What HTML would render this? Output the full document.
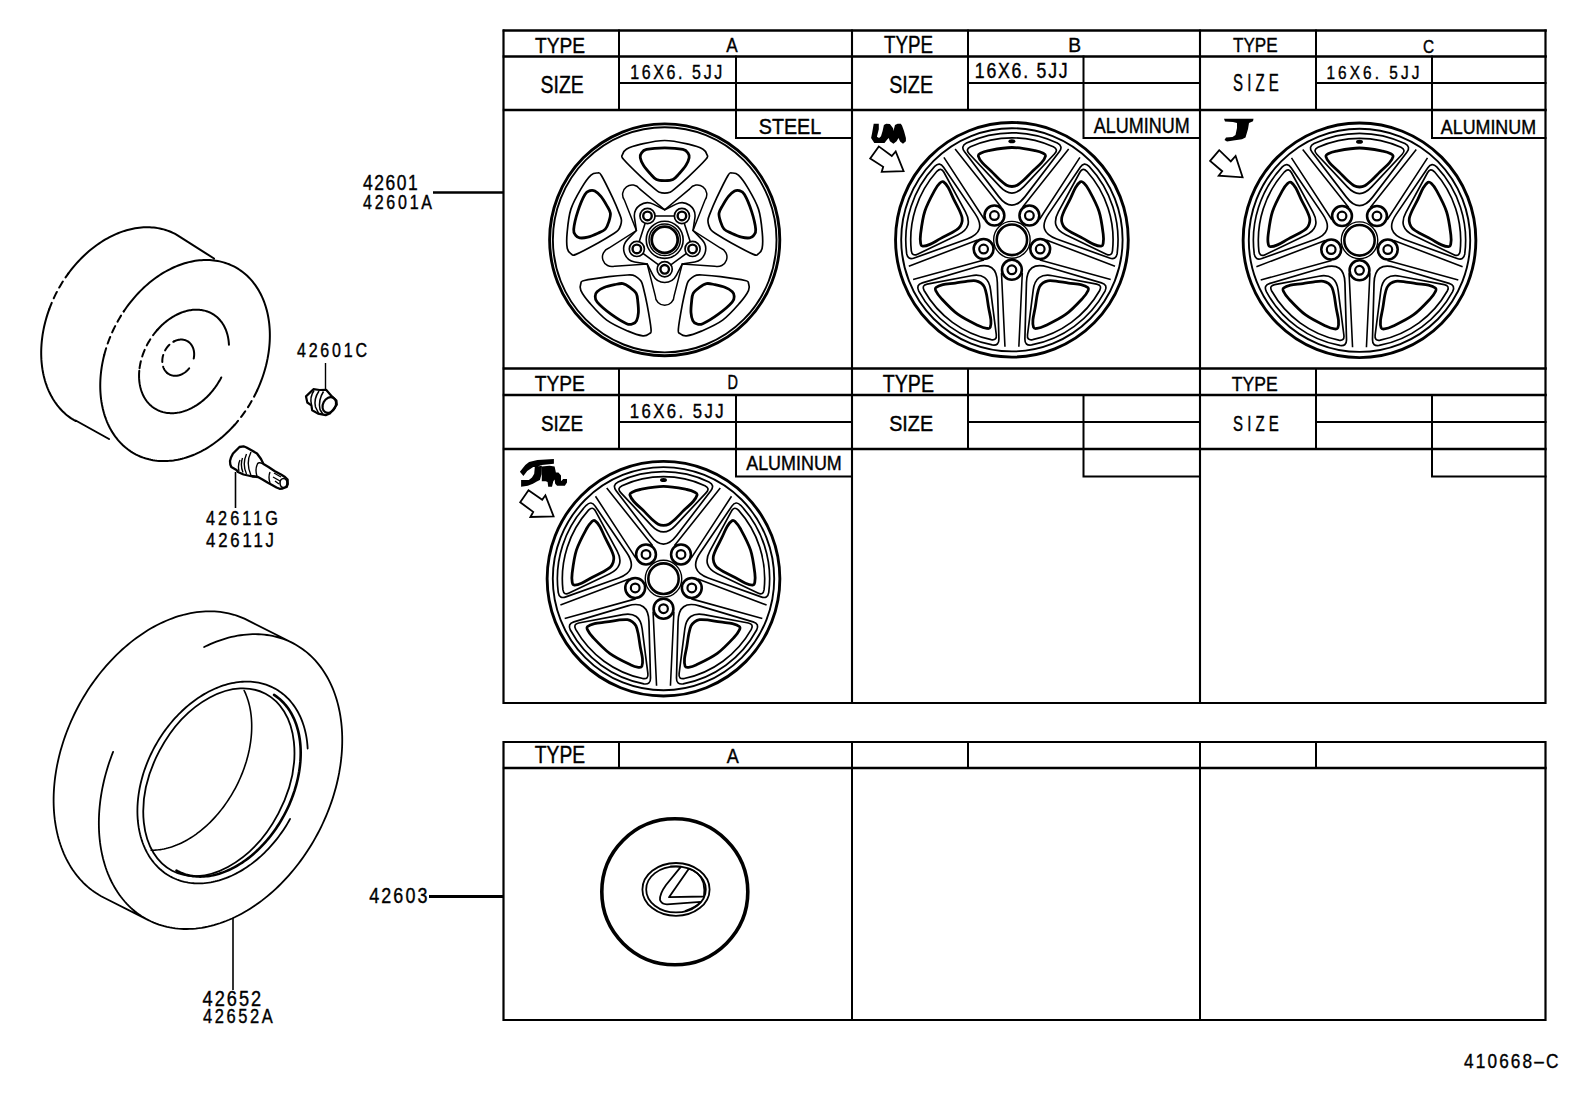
<!DOCTYPE html>
<html><head><meta charset="utf-8">
<style>
html,body{margin:0;padding:0;background:#fff;width:1592px;height:1099px;overflow:hidden}
svg{position:absolute;left:0;top:0}
text{font-family:"Liberation Sans",sans-serif;fill:#000;stroke:#000;stroke-width:0.4px}
</style></head><body>
<svg width="1592" height="1099" viewBox="0 0 1592 1099">
<defs><g id="alwheel" fill="none" stroke="#000"><circle r="117.3" stroke-width="2.9"/><circle r="111.6" stroke-width="1.9"/><path id="alw" d="M-45.78,-96.71A107,107 0 0 1 45.78,-96.71Q52,-93.51 47.73,-87.97Q30.48,-65.58 13.24,-43.19Q0,-26 -13.24,-43.19Q-30.48,-65.58 -47.73,-87.97Q-52,-93.51 -45.78,-96.71Z" stroke-width="1.7"/><use href="#alw" transform="rotate(72)"/><use href="#alw" transform="rotate(144)"/><use href="#alw" transform="rotate(216)"/><use href="#alw" transform="rotate(288)"/><path id="alw2" d="M-41.8,-93.04A102,102 0 0 1 41.8,-93.04Q47.2,-90.42 43.08,-86.06Q27.55,-69.59 12.01,-53.13Q0,-40.4 -12.01,-53.13Q-27.55,-69.59 -43.08,-86.06Q-47.2,-90.42 -41.8,-93.04Z" stroke-width="1.7"/><use href="#alw2" transform="rotate(72)"/><use href="#alw2" transform="rotate(144)"/><use href="#alw2" transform="rotate(216)"/><use href="#alw2" transform="rotate(288)"/><path id="alw3" d="M0,-92.3C-7.83,-92.3 -18.17,-90.2 -23.5,-89.2C-28.83,-88.2 -30.28,-87.23 -32,-86.3C-33.72,-85.37 -34.15,-85.12 -33.8,-83.6C-33.45,-82.08 -32.07,-79.7 -29.9,-77.2C-27.73,-74.7 -23.83,-71.55 -20.8,-68.6C-17.77,-65.65 -14.28,-61.85 -11.7,-59.5C-9.12,-57.15 -7.25,-55.53 -5.3,-54.5C-3.35,-53.47 -1.77,-53.3 0,-53.3C1.77,-53.3 3.35,-53.47 5.3,-54.5C7.25,-55.53 9.12,-57.15 11.7,-59.5C14.28,-61.85 17.77,-65.65 20.8,-68.6C23.83,-71.55 27.73,-74.7 29.9,-77.2C32.07,-79.7 33.45,-82.08 33.8,-83.6C34.15,-85.12 33.72,-85.37 32,-86.3C30.28,-87.23 28.83,-88.2 23.5,-89.2C18.17,-90.2 7.83,-92.3 0,-92.3Z" stroke-width="2.8"/><use href="#alw3" transform="rotate(72)"/><use href="#alw3" transform="rotate(144)"/><use href="#alw3" transform="rotate(216)"/><use href="#alw3" transform="rotate(288)"/><path id="alr" d="M-10.5,33L-7,107M10.5,33L7,107" stroke-width="1.6"/><use href="#alr" transform="rotate(72)"/><use href="#alr" transform="rotate(144)"/><use href="#alr" transform="rotate(216)"/><use href="#alr" transform="rotate(288)"/><circle cx="0" cy="30" r="10" stroke-width="2.6"/><circle cx="0" cy="30" r="4.4" stroke-width="2.2"/><circle cx="-28.53" cy="9.27" r="10" stroke-width="2.6"/><circle cx="-28.53" cy="9.27" r="4.4" stroke-width="2.2"/><circle cx="-17.63" cy="-24.27" r="10" stroke-width="2.6"/><circle cx="-17.63" cy="-24.27" r="4.4" stroke-width="2.2"/><circle cx="17.63" cy="-24.27" r="10" stroke-width="2.6"/><circle cx="17.63" cy="-24.27" r="4.4" stroke-width="2.2"/><circle cx="28.53" cy="9.27" r="10" stroke-width="2.6"/><circle cx="28.53" cy="9.27" r="4.4" stroke-width="2.2"/><circle r="18.4" stroke-width="1.4"/><circle r="15.3" stroke-width="2.6"/><ellipse cx="0" cy="-98.6" rx="3.5" ry="2" fill="#000" stroke="none"/></g></defs>
<g stroke="#000" stroke-width="2" fill="none" stroke-linecap="square">
<path d="M504 30.5H1545.5" stroke-width="2.6"/>
<path d="M503.5 30.5V703H1545.5V30.5" stroke-width="2.2"/>
<path d="M504 56.5H1545.5" stroke-width="2.7"/>
<path d="M504 110H1545.5" stroke-width="2.4"/>
<path d="M504 368.5H1545.5" stroke-width="2.6"/>
<path d="M852 30.5V703 M1200 30.5V703" stroke-width="2.1"/>
<path d="M619 30.5V110 M968 30.5V110 M1316 30.5V110"/>
<path d="M619 83H852 M968 83H1200 M1316 83H1545.5"/>
<path d="M736 56.5V138H852 M1083.5 56.5V138H1200 M1432 56.5V138H1545.5"/>
<path d="M504 395H1545.5" stroke-width="2.5"/>
<path d="M504 449H1545.5" stroke-width="2.3"/>
<path d="M619 369V449 M968 369V449 M1316 369V449"/>
<path d="M619 422H852 M968 422H1200 M1316 422H1545.5"/>
<path d="M736 395V476.5H852 M1083.5 395V476.5H1200 M1432 395V476.5H1545.5"/>
<path d="M503.5 742H1545.5V1020H503.5Z" stroke-width="2.2"/>
<path d="M504 768H1545.5" stroke-width="2.3"/>
<path d="M852 742V1020 M1200 742V1020"/>
<path d="M619 742V768 M968 742V768 M1316 742V768"/>
</g>
<g><text x="535" y="52.8" font-size="22.45" textLength="50" lengthAdjust="spacingAndGlyphs">TYPE</text><text x="540.6" y="92.8" font-size="23.28" textLength="43.24" lengthAdjust="spacingAndGlyphs">SIZE</text><text x="726.2" y="52.2" font-size="21.08" textLength="11.43" lengthAdjust="spacingAndGlyphs">A</text><text transform="matrix(0.82,0,0,1,630.2,0)" x="0" y="79" font-size="19.55" textLength="112.27" lengthAdjust="spacing">16X6. 5JJ</text><text x="758.8" y="134" font-size="22.76" textLength="62.42" lengthAdjust="spacingAndGlyphs">STEEL</text><text x="884" y="52.8" font-size="23.05" textLength="49" lengthAdjust="spacingAndGlyphs">TYPE</text><text x="889.2" y="93.2" font-size="24.53" textLength="43.87" lengthAdjust="spacingAndGlyphs">SIZE</text><text x="1068.2" y="51.6" font-size="19.88" textLength="12.78" lengthAdjust="spacingAndGlyphs">B</text><text transform="matrix(0.82,0,0,1,974.8,0)" x="0" y="78" font-size="21.58" textLength="113.25" lengthAdjust="spacing">16X6. 5JJ</text><text x="1093.8" y="133" font-size="21.58" textLength="95.81" lengthAdjust="spacingAndGlyphs">ALUMINUM</text><text x="1233" y="51.6" font-size="19.88" textLength="44.62" lengthAdjust="spacingAndGlyphs">TYPE</text><text x="1233" y="91.4" font-size="23.05" textLength="45.83" lengthAdjust="spacingAndGlyphs">S I Z E</text><text x="1423" y="52.8" font-size="18.75" textLength="11.11" lengthAdjust="spacingAndGlyphs">C</text><text transform="matrix(0.82,0,0,1,1326.4,0)" x="0" y="78.8" font-size="18.75" textLength="113.46" lengthAdjust="spacing">16X6. 5JJ</text><text x="1440.8" y="134.2" font-size="19.88" textLength="95.22" lengthAdjust="spacingAndGlyphs">ALUMINUM</text><text x="534.8" y="391" font-size="21.28" textLength="50.02" lengthAdjust="spacingAndGlyphs">TYPE</text><text x="541" y="431" font-size="22.45" textLength="42.01" lengthAdjust="spacingAndGlyphs">SIZE</text><text x="727.4" y="388.8" font-size="19.31" textLength="10.48" lengthAdjust="spacingAndGlyphs">D</text><text transform="matrix(0.82,0,0,1,629.8,0)" x="0" y="417.6" font-size="20.46" textLength="114.44" lengthAdjust="spacing">16X6. 5JJ</text><text x="746.2" y="469.6" font-size="19.88" textLength="95.61" lengthAdjust="spacingAndGlyphs">ALUMINUM</text><text x="882.8" y="391.6" font-size="23.05" textLength="51.23" lengthAdjust="spacingAndGlyphs">TYPE</text><text x="889.2" y="431.4" font-size="22.76" textLength="43.87" lengthAdjust="spacingAndGlyphs">SIZE</text><text x="1231.8" y="390.8" font-size="20.43" textLength="45.83" lengthAdjust="spacingAndGlyphs">TYPE</text><text x="1233" y="430.6" font-size="21.58" textLength="45.83" lengthAdjust="spacingAndGlyphs">S I Z E</text><text x="534.8" y="763.4" font-size="23.05" textLength="50.25" lengthAdjust="spacingAndGlyphs">TYPE</text><text x="726.8" y="762.6" font-size="20.43" textLength="12.04" lengthAdjust="spacingAndGlyphs">A</text><text transform="matrix(0.82,0,0,1,363,0)" x="0" y="190.4" font-size="21.28" textLength="66.84" lengthAdjust="spacing">42601</text><text transform="matrix(0.82,0,0,1,363,0)" x="0" y="209" font-size="19.55" textLength="84.15" lengthAdjust="spacing">42601A</text><text transform="matrix(0.82,0,0,1,297,0)" x="0" y="357" font-size="19.55" textLength="85.37" lengthAdjust="spacing">42601C</text><text transform="matrix(0.82,0,0,1,206,0)" x="0" y="525.2" font-size="19.88" textLength="87.82" lengthAdjust="spacing">42611G</text><text transform="matrix(0.82,0,0,1,206,0)" x="0" y="547" font-size="20.46" textLength="82.94" lengthAdjust="spacing">42611J</text><text transform="matrix(0.82,0,0,1,202.6,0)" x="0" y="1005.8" font-size="22.18" textLength="71.48" lengthAdjust="spacing">42652</text><text transform="matrix(0.82,0,0,1,203,0)" x="0" y="1023" font-size="20.12" textLength="85.13" lengthAdjust="spacing">42652A</text><text transform="matrix(0.82,0,0,1,369.2,0)" x="0" y="902.8" font-size="21.85" textLength="70.99" lengthAdjust="spacing">42603</text><text transform="matrix(0.82,0,0,1,1464,0)" x="0" y="1068" font-size="21" textLength="115.13" lengthAdjust="spacing">410668&#8211;C</text></g>
<g stroke="#000" fill="none">
<path d="M433 192.5H503" stroke-width="2.6"/>
<path d="M429 896.5H503" stroke-width="2.8"/>
<path d="M325.5 363V390" stroke-width="1.4"/>
<path d="M235.5 472V508" stroke-width="1.6"/>
<path d="M233 918V990" stroke-width="1.6"/>
</g>
<g transform="translate(664.7,239.8) scale(0.993,1)" fill="none" stroke="#000"><circle r="115.9" stroke-width="2.9"/><circle r="112.6" stroke-width="1.9"/><path id="stw" d="M0,-99.3C-7.93,-99.3 -17.37,-97.05 -23.8,-95.6C-30.23,-94.15 -35.47,-92.37 -38.6,-90.6C-41.73,-88.83 -42.12,-86.68 -42.6,-85C-43.08,-83.32 -44.63,-84.18 -41.5,-80.5C-38.37,-76.82 -29.08,-67.88 -23.8,-62.9C-18.52,-57.92 -12.9,-53.17 -9.8,-50.6C-6.7,-48.03 -6.83,-48.15 -5.2,-47.5C-3.57,-46.85 -1.73,-46.7 0,-46.7C1.73,-46.7 3.57,-46.85 5.2,-47.5C6.83,-48.15 6.7,-48.03 9.8,-50.6C12.9,-53.17 18.52,-57.92 23.8,-62.9C29.08,-67.88 38.37,-76.82 41.5,-80.5C44.63,-84.18 43.08,-83.32 42.6,-85C42.12,-86.68 41.73,-88.83 38.6,-90.6C35.47,-92.37 30.23,-94.15 23.8,-95.6C17.37,-97.05 7.93,-99.3 0,-99.3Z" stroke-width="1.7"/><use href="#stw" transform="rotate(72)"/><use href="#stw" transform="rotate(144)"/><use href="#stw" transform="rotate(216)"/><use href="#stw" transform="rotate(288)"/><path id="stw2" d="M0,-92C-6.1,-92 -14.38,-91.3 -18.3,-90.4C-22.22,-89.5 -22.45,-88 -23.5,-86.6C-24.55,-85.2 -24.95,-84.02 -24.6,-82C-24.25,-79.98 -23.08,-77.17 -21.4,-74.5C-19.72,-71.83 -16.68,-68.38 -14.5,-66C-12.32,-63.62 -10.72,-61.35 -8.3,-60.2C-5.88,-59.05 -2.77,-59.1 0,-59.1C2.77,-59.1 5.88,-59.05 8.3,-60.2C10.72,-61.35 12.32,-63.62 14.5,-66C16.68,-68.38 19.72,-71.83 21.4,-74.5C23.08,-77.17 24.25,-79.98 24.6,-82C24.95,-84.02 24.55,-85.2 23.5,-86.6C22.45,-88 22.22,-89.5 18.3,-90.4C14.38,-91.3 6.1,-92 0,-92Z" stroke-width="2.8"/><use href="#stw2" transform="rotate(72)"/><use href="#stw2" transform="rotate(144)"/><use href="#stw2" transform="rotate(216)"/><use href="#stw2" transform="rotate(288)"/><path d="M17.63,24.27L9.5,56A9.5,9.5 0 0 1 -9.5,56L-17.63,24.27L-50.32,26.34A9.5,9.5 0 0 1 -56.19,8.27L-28.53,-9.27L-40.6,-39.72A9.5,9.5 0 0 1 -25.23,-50.89L-0,-30L25.23,-50.89A9.5,9.5 0 0 1 40.6,-39.72L28.53,-9.27L56.19,8.27A9.5,9.5 0 0 1 50.32,26.34Z" stroke-width="1.5"/><path d="M17.63,24.27L11.7,35.62A13.2,13.2 0 0 1 -11.7,35.62L-17.63,24.27L-30.26,22.13A13.2,13.2 0 0 1 -37.49,-0.12L-28.53,-9.27L-30.4,-21.94A13.2,13.2 0 0 1 -11.47,-35.69L-0,-30L11.47,-35.69A13.2,13.2 0 0 1 30.4,-21.94L28.53,-9.27L37.49,-0.12A13.2,13.2 0 0 1 30.26,22.13L17.63,24.27Z" stroke-width="1.6"/><path d="M0,29.5L-28.06,9.12L-17.34,-23.87L17.34,-23.87L28.06,9.12Z" stroke-width="1.6"/><circle cx="0" cy="29.5" r="7.6" stroke-width="1.7" fill="#fff"/><circle cx="0" cy="29.5" r="4.3" stroke-width="2.4"/><circle cx="-28.06" cy="9.12" r="7.6" stroke-width="1.7" fill="#fff"/><circle cx="-28.06" cy="9.12" r="4.3" stroke-width="2.4"/><circle cx="-17.34" cy="-23.87" r="7.6" stroke-width="1.7" fill="#fff"/><circle cx="-17.34" cy="-23.87" r="4.3" stroke-width="2.4"/><circle cx="17.34" cy="-23.87" r="7.6" stroke-width="1.7" fill="#fff"/><circle cx="17.34" cy="-23.87" r="4.3" stroke-width="2.4"/><circle cx="28.06" cy="9.12" r="7.6" stroke-width="1.7" fill="#fff"/><circle cx="28.06" cy="9.12" r="4.3" stroke-width="2.4"/><circle r="18.6" stroke-width="1.6"/><circle r="15.8" stroke-width="1.5"/><circle r="13.1" stroke-width="2.8"/></g>
<use href="#alwheel" transform="translate(1011.9,239.8) scale(0.992,1)"/>
<use href="#alwheel" transform="translate(1359.5,240.3) scale(0.992,1)"/>
<use href="#alwheel" transform="translate(663.5,578.7) scale(0.992,1)"/>
<g fill="none" stroke="#000" stroke-linecap="round"><path d="M123.77,311.38L125.26,309.2L126.79,307.04L128.35,304.93L129.95,302.84L131.59,300.8L133.25,298.79L134.95,296.82L136.68,294.89L138.44,293L140.24,291.15L142.05,289.35L143.9,287.59L145.77,285.88L147.67,284.21L149.59,282.6L151.53,281.03L153.49,279.51L155.48,278.04L157.48,276.63L159.5,275.26L161.53,273.95L163.58,272.7L165.65,271.5L167.72,270.36L169.81,269.27L171.9,268.24L174.01,267.27L176.12,266.35L178.24,265.5L180.36,264.7L182.48,263.97L184.61,263.3L186.73,262.68L188.86,262.13L190.98,261.65L193.1,261.22L195.21,260.85L197.32,260.55L199.42,260.31L201.51,260.14L203.59,260.02L205.66,259.97L207.71,259.99L209.76,260.06L211.78,260.2L213.79,260.41L215.78,260.67L217.75,261L219.7,261.39L221.63,261.85L223.54,262.36L225.42,262.94L227.28,263.58L229.11,264.28L230.91,265.04L232.69,265.86L234.43,266.73L236.14,267.67L237.82,268.67L239.47,269.72L241.08,270.83L242.66,272L244.2,273.23L245.71,274.5L247.18,275.84L248.6,277.22L249.99,278.66L251.34,280.15L252.64,281.69L253.91,283.28L255.13,284.92L256.3,286.6L257.43,288.33L258.52,290.11L259.56,291.93L260.55,293.8L261.49,295.7L262.39,297.65L263.24,299.64L264.04,301.66L264.79,303.73L265.48,305.82L266.13,307.96L266.73,310.12L267.28,312.32L267.77,314.54L268.21,316.8L268.6,319.08L268.94,321.39L269.23,323.73L269.46,326.09L269.64,328.46L269.77,330.86L269.84,333.28L269.86,335.72L269.82,338.17L269.74,340.63L269.6,343.11L269.4,345.6L269.16,348.09L268.86,350.6L268.51,353.11L268.1,355.63L267.65,358.15L267.14,360.67L266.58,363.19L265.97,365.71L265.3,368.22L264.59,370.73L263.83,373.24L263.02,375.73L262.16,378.22L261.25,380.7L260.29,383.16L259.28,385.61L258.23,388.04L257.14,390.46M234.4,425.09L232.64,427.01L230.85,428.9L229.04,430.74L227.19,432.53L225.32,434.28L223.42,435.98L221.5,437.64L219.56,439.24L217.59,440.8L215.6,442.3L213.6,443.75L211.57,445.15L209.53,446.49L207.47,447.78L205.4,449.02L203.32,450.2L201.22,451.32L199.11,452.38L197,453.38L194.88,454.33L192.75,455.21L190.61,456.04L188.47,456.8L186.33,457.5L184.19,458.14L182.05,458.72L179.91,459.24L177.78,459.69L175.65,460.08L173.52,460.41L171.41,460.67L169.3,460.87L167.2,461.01L165.11,461.08L163.04,461.08L160.98,461.03L158.93,460.9L156.9,460.72L154.89,460.47L152.9,460.16L150.93,459.78L148.98,459.34L147.06,458.84L145.15,458.27L143.28,457.65L141.43,456.96L139.61,456.21L137.81,455.4L136.05,454.52L134.32,453.59L132.62,452.6L130.95,451.55L129.32,450.44L127.73,449.28L126.17,448.05L124.64,446.78L123.16,445.44L121.72,444.06L120.31,442.62L118.95,441.13L117.63,439.58L116.35,437.99L115.12,436.34L113.93,434.65L112.79,432.91L111.69,431.13L110.64,429.3L109.64,427.42L108.68,425.51L107.77,423.55L106.92,421.55L106.11,419.51L105.35,417.44L104.65,415.33L103.99,413.18L103.39,411L102.83,408.79L102.34,406.55L101.89,404.28L101.5,401.98L101.16,399.65L100.87,397.3L100.64,394.93L100.46,392.53L100.33,390.12L100.26,387.68L100.24,385.23L100.28,382.76L100.37,380.28L100.51,377.78L100.71,375.27L100.97,372.76L101.27,370.24L101.63,367.71L102.04,365.17L102.51,362.63L103.03,360.1L103.6,357.56L104.22,355.02M75.45,420.96L73.74,419.97L72.06,418.92L70.42,417.82L68.81,416.65L67.24,415.43L65.71,414.15L64.22,412.81L62.76,411.42L61.35,409.98L59.98,408.48L58.65,406.93L57.36,405.34L56.12,403.69L54.93,401.99L53.78,400.24L52.67,398.45L51.61,396.61L50.61,394.73L49.64,392.81L48.73,390.84L47.87,388.83L47.06,386.79L46.3,384.7L45.59,382.58L44.93,380.42L44.33,378.23L43.77,376.01L43.27,373.76L42.83,371.48L42.43,369.16L42.09,366.83L41.81,364.46L41.58,362.08L41.4,359.67L41.28,357.24L41.21,354.79L41.19,352.32L41.23,349.84L41.33,347.35L41.48,344.84L41.68,342.32L41.94,339.79L42.25,337.26L42.62,334.71L43.04,332.17L43.51,329.62L44.04,327.07L44.62,324.52L45.25,321.97L45.94,319.43L46.67,316.89L47.46,314.36L48.29,311.83L49.18,309.32M68.24,273.63L69.82,271.52L71.44,269.43L73.09,267.39L74.78,265.38L76.5,263.42L78.25,261.49L80.03,259.61L81.84,257.77L83.68,255.97L85.54,254.22L87.43,252.52L89.35,250.86L91.29,249.25L93.25,247.7L95.23,246.19L97.23,244.74L99.25,243.33L101.29,241.99L103.34,240.69L105.4,239.45L107.48,238.27L109.57,237.15L111.68,236.08L113.79,235.07L115.91,234.12L118.03,233.23L120.16,232.4L122.29,231.63L124.43,230.92L126.57,230.27L128.7,229.68L130.84,229.16L132.97,228.7L135.1,228.3L137.22,227.96L139.33,227.69L141.44,227.49L143.54,227.34L145.62,227.26L147.69,227.24L149.75,227.29L151.8,227.4L153.82,227.58L155.83,227.81L157.82,228.12L159.79,228.48L161.74,228.91L163.67,229.4L165.57,229.95L167.45,230.57L169.3,231.25L171.12,231.99L172.92,232.79L174.68,233.64L176.42,234.56M176.4,234.6L214,258.5M75.7,420.5L109,439M228.94,344.8L228.87,343.57L228.78,342.36L228.65,341.16L228.5,339.98L228.32,338.8L228.12,337.65L227.88,336.5L227.62,335.37L227.33,334.26L227.01,333.17L226.67,332.09L226.3,331.03L225.9,329.99L225.48,328.97L225.03,327.97L224.56,326.99L224.06,326.04L223.53,325.1L222.98,324.19L222.4,323.3L221.81,322.44L221.18,321.6L220.54,320.78L219.87,319.99L219.18,319.23L218.46,318.49L217.73,317.78L216.97,317.1L216.2,316.44L215.4,315.82L214.58,315.22L213.75,314.65L212.89,314.11L212.02,313.6L211.13,313.12L210.22,312.67L209.3,312.25L208.36,311.87L207.4,311.51L206.43,311.18L205.45,310.89L204.45,310.63L203.44,310.4L202.42,310.2L201.39,310.03L200.34,309.9L199.29,309.8L198.22,309.73L197.15,309.69L196.07,309.69L194.98,309.71L193.88,309.77L192.78,309.87L191.67,309.99L190.56,310.15L189.44,310.34L188.32,310.56L187.2,310.82L186.08,311.1L184.95,311.42L183.82,311.77L182.7,312.15L181.57,312.56L180.45,313L179.33,313.47L178.21,313.98L177.09,314.51L175.98,315.07L174.88,315.66L173.78,316.28L172.68,316.93L171.6,317.6L170.52,318.3L169.45,319.03L168.39,319.79L167.33,320.57L166.29,321.38L165.26,322.22L164.25,323.07L163.24,323.96L162.25,324.86L161.27,325.79L160.3,326.74L159.35,327.71L158.42,328.71L157.5,329.72M139.27,370.83L139.17,372.11L139.1,373.38L139.06,374.64L139.05,375.9L139.07,377.15L139.11,378.38L139.19,379.61L139.29,380.82L139.42,382.03L139.58,383.22L139.77,384.39L139.99,385.55L140.23,386.7L140.5,387.83L140.8,388.94L141.12,390.03L141.48,391.11L141.86,392.17L142.27,393.21L142.7,394.23L143.16,395.23L143.65,396.2L144.16,397.16L144.69,398.09L145.26,399L145.84,399.88L146.45,400.74L147.09,401.58L147.74,402.39L148.42,403.17L149.13,403.93L149.85,404.66L150.6,405.36L151.37,406.04L152.16,406.69L152.97,407.31L153.8,407.9L154.64,408.46L155.51,408.99L156.4,409.49L157.3,409.95L158.22,410.39L159.15,410.8L160.1,411.18L161.07,411.52L162.05,411.83L163.05,412.12L164.05,412.36L165.08,412.58L166.11,412.77L167.15,412.92L168.21,413.04L169.27,413.12L170.35,413.18L171.43,413.2L172.52,413.18L173.62,413.14L174.73,413.06L175.84,412.95L176.95,412.81L178.07,412.63L179.2,412.42L180.32,412.18L181.45,411.91L182.59,411.61L183.72,411.27L184.85,410.9L185.98,410.5L187.11,410.07L188.24,409.61L189.37,409.12L190.49,408.59L191.61,408.04L192.72,407.46L193.83,406.85L194.93,406.21L196.03,405.54L197.12,404.85L198.19,404.12L199.26,403.37L200.33,402.59L201.38,401.79L202.41,400.96L203.44,400.11L204.46,399.23L205.46,398.33L206.45,397.4L207.42,396.45L208.38,395.48L209.33,394.49L210.25,393.47L211.17,392.44L212.06,391.39L212.94,390.31L213.79,389.22L214.63,388.12L215.45,386.99L216.25,385.85L217.03,384.69L217.79,383.52L218.53,382.33L219.24,381.13L219.94,379.92L220.61,378.7L221.25,377.47M174.1,341.39L174.49,341.19L174.88,341.01L175.28,340.84L175.68,340.67L176.07,340.52L176.47,340.38L176.87,340.25L177.28,340.13L177.68,340.02L178.08,339.93L178.48,339.84L178.88,339.77L179.29,339.71L179.69,339.65L180.09,339.62L180.49,339.59L180.88,339.57L181.28,339.57L181.67,339.57L182.07,339.59L182.46,339.62L182.84,339.66L183.23,339.72L183.61,339.78L183.98,339.86L184.36,339.95L184.73,340.04L185.09,340.15L185.45,340.28L185.81,340.41L186.16,340.55L186.51,340.71L186.85,340.87L187.19,341.05L187.52,341.23L187.84,341.43L188.16,341.64L188.47,341.86L188.77,342.08L189.07,342.32L189.36,342.57L189.65,342.83L189.92,343.09L190.19,343.37L190.46,343.65L190.71,343.95L190.96,344.25L191.19,344.56L191.42,344.88L191.65,345.21L191.86,345.55L192.06,345.89L192.26,346.24L192.44,346.6L192.62,346.97L192.79,347.34L192.95,347.72L193.1,348.1L193.24,348.49L193.37,348.89L193.49,349.29L193.6,349.7L193.7,350.12L193.79,350.54L193.87,350.96L193.94,351.39L194,351.82L194.06,352.25L194.1,352.69L194.13,353.13L194.15,353.58L194.16,354.02L194.16,354.47L194.15,354.93L194.13,355.38L194.1,355.83L194.06,356.29L194.01,356.75L193.95,357.2L193.88,357.66L193.8,358.12L193.71,358.58M189.14,368.32L188.84,368.69L188.53,369.05L188.22,369.4L187.91,369.75L187.58,370.09L187.25,370.42L186.92,370.74L186.58,371.05L186.23,371.36L185.88,371.66L185.52,371.95L185.16,372.22L184.8,372.49L184.43,372.75L184.05,373L183.67,373.24L183.29,373.48L182.91,373.7L182.52,373.91L182.13,374.11L181.74,374.3L181.35,374.47L180.95,374.64L180.55,374.8L180.15,374.94L179.75,375.08L179.35,375.2L178.94,375.32L178.54,375.42L178.14,375.51L177.73,375.58L177.33,375.65L176.93,375.71L176.53,375.75L176.13,375.78L175.73,375.8L175.33,375.81L174.93,375.81L174.54,375.8L174.15,375.77L173.76,375.73L173.37,375.68L172.99,375.62L172.61,375.55L172.24,375.47L171.86,375.37L171.5,375.27L171.13,375.15L170.77,375.02L170.42,374.88L170.07,374.73L169.73,374.57L169.39,374.39L169.06,374.21L168.73,374.02L168.41,373.81L168.09,373.6L167.79,373.37L167.48,373.14L167.19,372.89L166.9,372.64" stroke-width="2"/><path d="M257.14,390.46L255.93,392.97L254.68,395.47L253.39,397.94L252.04,400.38L250.65,402.8L249.21,405.19L247.73,407.54L246.2,409.87L244.63,412.16L243.02,414.41L241.37,416.63L239.69,418.8L237.96,420.94L236.2,423.04L234.4,425.09M104.22,355.02L104.89,352.48L105.62,349.94L106.4,347.42L107.23,344.9L108.11,342.38L109.04,339.89L110.01,337.4L111.04,334.93L112.11,332.47L113.23,330.04L114.39,327.62L115.61,325.23L116.86,322.85L118.16,320.5L119.5,318.18L120.88,315.88L122.31,313.62L123.77,311.38M49.18,309.32L50.12,306.79L51.12,304.28L52.16,301.79L53.25,299.31L54.39,296.85L55.58,294.41L56.81,292L58.09,289.6L59.42,287.23L60.78,284.89L62.19,282.58L63.64,280.29L65.13,278.04L66.67,275.82L68.24,273.63M157.5,329.72L156.6,330.76L155.71,331.82L154.84,332.9L153.98,334L153.15,335.11L152.34,336.24L151.54,337.39L150.77,338.55L150.02,339.73L149.29,340.92L148.58,342.12L147.89,343.34L147.23,344.56L146.59,345.8L145.98,347.05L145.38,348.3L144.82,349.57L144.27,350.84L143.76,352.12L143.27,353.41L142.8,354.7L142.36,355.99L141.95,357.29L141.56,358.59L141.2,359.89L140.87,361.2L140.56,362.5L140.29,363.8L140.04,365.1L139.81,366.4L139.62,367.7L139.46,368.99M166.9,372.64L166.62,372.37L166.35,372.1L166.09,371.82L165.83,371.53L165.59,371.23L165.35,370.93L165.11,370.61L164.89,370.29L164.68,369.95L164.47,369.62L164.27,369.27L164.08,368.91L163.9,368.55L163.73,368.18L163.57,367.81L163.42,367.43L163.28,367.04L163.14,366.65L163.02,366.25L162.91,365.84L162.8,365.43L162.71,365.02L162.62,364.6L162.55,364.17L162.48,363.75L162.43,363.32L162.38,362.88L162.35,362.44L162.32,362L162.31,361.56L162.3,361.11L162.31,360.66L162.32,360.21L162.35,359.76L162.38,359.3L162.43,358.85L162.48,358.39L162.55,357.94L162.62,357.48L162.71,357.03L162.8,356.57L162.91,356.12L163.02,355.66L163.15,355.21L163.28,354.76L163.42,354.31L163.58,353.86L163.74,353.42L163.91,352.98L164.09,352.54L164.28,352.1L164.48,351.67L164.68,351.24L164.9,350.82L165.12,350.4L165.35,349.98L165.59,349.57L165.84,349.17L166.1,348.77L166.36,348.37L166.63,347.99L166.91,347.6L167.19,347.23L167.49,346.86L167.79,346.5L168.09,346.14L168.4,345.79L168.72,345.45L169.05,345.12L169.38,344.8L169.71,344.48L170.06,344.17L170.4,343.87L170.75,343.58L171.11,343.3L171.47,343.03L171.84,342.76L172.2,342.51L172.58,342.27L172.95,342.03L173.33,341.81L173.72,341.59L174.1,341.39" stroke-width="2" stroke-dasharray="7 5"/></g>
<g fill="none" stroke="#000" stroke-linecap="round"><path d="M246.91,619.89L244.41,618.68L241.87,617.57L239.29,616.54L236.67,615.61L234.01,614.76L231.32,614.01L228.58,613.34L225.82,612.77L223.02,612.29L220.19,611.9L217.34,611.61L214.46,611.41L211.55,611.3L208.62,611.28L205.67,611.36L202.7,611.53L199.71,611.8L196.71,612.15L193.69,612.6L190.66,613.14L187.62,613.77L184.58,614.5L181.53,615.31L178.47,616.22L175.41,617.21L172.36,618.3L169.3,619.47L166.25,620.74L163.2,622.08L160.16,623.52L157.14,625.04L154.12,626.64L151.11,628.33L148.13,630.1L145.15,631.95L142.2,633.89L139.27,635.9L136.36,637.98L133.48,640.15L130.62,642.39L127.79,644.7L124.99,647.08L122.22,649.54L119.49,652.06L116.79,654.65L114.12,657.31L111.5,660.03L108.92,662.81L106.38,665.66L103.88,668.56L101.42,671.52L99.02,674.53L96.66,677.6L94.35,680.72L92.09,683.89L89.89,687.1L87.74,690.36L85.64,693.66L83.6,697.01L81.62,700.39L79.7,703.81L77.84,707.27L76.04,710.75L74.3,714.27L72.63,717.82L71.02,721.39L69.48,724.98L68,728.6L66.59,732.23L65.25,735.89L63.98,739.55L62.78,743.23L61.65,746.92L60.59,750.61L59.61,754.32L58.7,758.02L57.86,761.72L57.09,765.43L56.4,769.12L55.79,772.81L55.25,776.5L54.79,780.17L54.4,783.82L54.09,787.47L53.86,791.09L53.7,794.69L53.62,798.27L53.61,801.83L53.69,805.36L53.84,808.86L54.06,812.32L54.36,815.76L54.74,819.15L55.2,822.51L55.73,825.83L56.34,829.11L57.02,832.34L57.77,835.52L58.6,838.66L59.51,841.75L60.49,844.78L61.54,847.76L62.66,850.68L63.85,853.55L65.11,856.35L66.44,859.1L67.85,861.78L69.32,864.39L70.85,866.94L72.45,869.42L74.12,871.83L75.85,874.17L77.64,876.44L79.5,878.63L81.42,880.75L83.39,882.78L85.42,884.75L87.51,886.63L89.66,888.43L91.86,890.15L94.11,891.78L96.41,893.33L98.76,894.8L101.17,896.18L103.61,897.47M103.6,897.5L148.9,920.4M246.9,619.9L292.2,642.8M204.18,647.03L207.21,645.56L210.24,644.18L213.28,642.89L216.33,641.68L219.38,640.56L222.43,639.53L225.47,638.59L228.52,637.74L231.56,636.98L234.59,636.31L237.61,635.73L240.62,635.24L243.62,634.84L246.61,634.54L249.58,634.33L252.53,634.21L255.46,634.18L258.37,634.25L261.26,634.41L264.12,634.66L266.95,635L269.75,635.43L272.52,635.96L275.26,636.58L277.97,637.29L280.64,638.09L283.27,638.98L285.86,639.95L288.41,641.02L290.92,642.18L293.39,643.42L295.81,644.75L298.18,646.17L300.5,647.67L302.77,649.25L305,650.92L307.16,652.67L309.28,654.5L311.34,656.42L313.34,658.4L315.28,660.47L317.16,662.61L318.99,664.83L320.75,667.12L322.45,669.48L324.08,671.92L325.65,674.42L327.16,676.99L328.59,679.62L329.96,682.32L331.26,685.08L332.49,687.9L333.65,690.78L334.74,693.72L335.76,696.71L336.71,699.76L337.58,702.86L338.38,706L339.1,709.2L339.75,712.43L340.33,715.72L340.83,719.04L341.26,722.4L341.61,725.8L341.88,729.24L342.08,732.71L342.2,736.21L342.24,739.73L342.21,743.29L342.11,746.87L341.92,750.47L341.66,754.08L341.33,757.72L340.91,761.37L340.43,765.04L339.86,768.71L339.23,772.39L338.51,776.08L337.73,779.77L336.87,783.47L335.94,787.16L334.93,790.85L333.86,794.53L332.71,798.2L331.49,801.87L330.2,805.52L328.85,809.15L327.42,812.77L325.93,816.37L324.37,819.95L322.75,823.5L321.06,827.03L319.31,830.53L317.5,834L315.63,837.43L313.7,840.83L311.7,844.19L309.66,847.52L307.55,850.8L305.39,854.04L303.18,857.23L300.92,860.38L298.6,863.47L296.24,866.52L293.83,869.51L291.37,872.45L288.87,875.33L286.33,878.15L283.74,880.91L281.12,883.61L278.46,886.24L275.76,888.81L273.02,891.31L270.26,893.74L267.46,896.1L264.63,898.39L261.78,900.61L258.9,902.75L255.99,904.82L253.06,906.8L250.12,908.71L247.15,910.55L244.17,912.29L241.17,913.96L238.16,915.55L235.14,917.05L232.11,918.46L229.07,919.79L226.03,921.03L222.98,922.19L219.93,923.26L216.88,924.23L213.84,925.12L210.8,925.92L207.76,926.63L204.73,927.25L201.72,927.77L198.71,928.21L195.72,928.55L192.74,928.8L189.78,928.95L186.84,929.02L183.93,928.99L181.03,928.87L178.16,928.66L175.32,928.35L172.5,927.96L169.71,927.47L166.96,926.89L164.24,926.22L161.56,925.45L158.91,924.6L156.3,923.66L153.73,922.63L151.21,921.51L148.72,920.3L146.28,919.01L143.89,917.63L141.55,916.16L139.26,914.61L137.01,912.97L134.82,911.26L132.69,909.46L130.6,907.58L128.58,905.62L126.61,903.59L124.7,901.48L122.86,899.29L121.07,897.03L119.34,894.7L117.68,892.29L116.09,889.82L114.56,887.28L113.09,884.67L111.69,882L110.37,879.26L109.11,876.47L107.92,873.61L106.8,870.7L105.75,867.73L104.78,864.7L103.87,861.63L103.04,858.5L102.29,855.33L101.61,852.1L101,848.84L100.47,845.53L100.01,842.19L99.63,838.8L99.32,835.38L99.09,831.92L98.94,828.44L98.87,824.92L98.86,821.38L98.94,817.81L99.09,814.22L99.32,810.61L99.63,806.98L100.01,803.33L100.46,799.67L101,796L101.6,792.32L102.28,788.64L103.04,784.95L103.87,781.26L104.77,777.56L105.75,773.87L106.79,770.19L107.91,766.51L109.1,762.84L110.36,759.19L111.69,755.54L113.08,751.92M307.66,748.54L307.51,746.16L307.31,743.81L307.06,741.49L306.75,739.19L306.39,736.91L305.98,734.67L305.51,732.46L304.99,730.27L304.42,728.12L303.8,726.01L303.13,723.93L302.41,721.89L301.63,719.88L300.81,717.92L299.94,715.99L299.02,714.11L298.05,712.27L297.03,710.47L295.97,708.72L294.86,707.02L293.7,705.36L292.5,703.76L291.26,702.2L289.97,700.69L288.64,699.23L287.27,697.83L285.86,696.48L284.41,695.18L282.91,693.94L281.39,692.76L279.82,691.63L278.22,690.56L276.58,689.54L274.91,688.59L273.21,687.69L271.47,686.86L269.71,686.08L267.91,685.36L266.09,684.71L264.23,684.12L262.36,683.59L260.45,683.12L258.53,682.71L256.58,682.37L254.6,682.09L252.61,681.87L250.6,681.72L248.58,681.63L246.53,681.6L244.47,681.64L242.4,681.74L240.32,681.9L238.22,682.13L236.11,682.42L234,682.77L231.88,683.19L229.75,683.67L227.62,684.21L225.48,684.81L223.34,685.48L221.21,686.2L219.07,686.99L216.93,687.83L214.8,688.74L212.68,689.7L210.56,690.73L208.44,691.81L206.34,692.95L204.25,694.14L202.17,695.39L200.1,696.7L198.04,698.06L196,699.47L193.98,700.93L191.98,702.45L189.99,704.01L188.03,705.63L186.08,707.29L184.17,709L182.27,710.76L180.4,712.56L178.56,714.41L176.74,716.3L174.95,718.23L173.2,720.2L171.47,722.22L169.78,724.26L168.12,726.35L166.49,728.47L164.9,730.63L163.34,732.81L161.83,735.03L160.35,737.28L158.91,739.56L157.51,741.86L156.15,744.19L154.83,746.55L153.56,748.92L152.33,751.32L151.14,753.74L150,756.17L148.9,758.63L147.86,761.09L146.85,763.57L145.9,766.07L144.99,768.57L144.13,771.08L143.33,773.6L142.57,776.12L141.86,778.65L141.2,781.18L140.6,783.71L140.04,786.25L139.54,788.77L139.09,791.3L138.69,793.82L138.35,796.33L138.06,798.83L137.82,801.33L137.64,803.81L137.5,806.28L137.43,808.73L137.4,811.16L137.43,813.58L137.52,815.98L137.65,818.36L137.84,820.71L138.09,823.04L138.38,825.35L138.73,827.63L139.14,829.88L139.59,832.1L140.1,834.29L140.66,836.44L141.27,838.57L141.93,840.65L142.64,842.7L143.41,844.72L144.22,846.69L145.08,848.62L145.99,850.51L146.95,852.36L147.96,854.17L149.01,855.93L150.12,857.64L151.26,859.3L152.45,860.92L153.69,862.49L154.97,864.01L156.29,865.47L157.65,866.89L159.05,868.25L160.5,869.56L161.98,870.81L163.5,872.01L165.06,873.15L166.65,874.23L168.28,875.26L169.95,876.22L171.65,877.13L173.37,877.98L175.13,878.77L176.92,879.5L178.74,880.16L180.59,880.77L182.46,881.31L184.36,881.79L186.28,882.21L188.23,882.57L190.19,882.86L192.18,883.09L194.19,883.26L196.21,883.36L198.25,883.4L200.31,883.37L202.38,883.29L204.46,883.14L206.56,882.92L208.66,882.64L210.77,882.3L212.89,881.9L215.02,881.43L217.15,880.91L219.29,880.31L221.42,879.66L223.56,878.95L225.7,878.18L227.83,877.34L229.97,876.45L232.09,875.5L234.21,874.48L236.33,873.41L238.43,872.29L240.53,871.11L242.61,869.87L244.68,868.57L246.74,867.22L248.78,865.82L250.81,864.37L252.82,862.86L254.81,861.31L256.78,859.7L258.72,858.05L260.65,856.35L262.55,854.6L264.42,852.8L266.27,850.97L268.09,849.09L269.89,847.16L271.65,845.2L273.38,843.2L275.08,841.15L276.75,839.08L278.38,836.96L279.98,834.81L281.54,832.63L283.07,830.42L284.56,828.18L286,825.91L287.41,823.61L288.78,821.28L290.1,818.93" stroke-width="1.8"/><ellipse cx="218.86" cy="782.23" rx="67.19" ry="100.05" transform="rotate(27.8 218.86 782.23)" stroke-width="1.8"/><path d="M244.14,690.49L244.95,692.19L245.71,693.93L246.43,695.72L247.11,697.53L247.74,699.39L248.32,701.28L248.86,703.21L249.35,705.17L249.8,707.16L250.2,709.19L250.56,711.24L250.86,713.32L251.12,715.43L251.34,717.57L251.5,719.73L251.62,721.91L251.69,724.11L251.71,726.34L251.69,728.58L251.62,730.84L251.5,733.12L251.33,735.41L251.11,737.71L250.85,740.03L250.54,742.36L250.19,744.69L249.78,747.03L249.34,749.38L248.84,751.73L248.3,754.09L247.71,756.45L247.08,758.8L246.41,761.16L245.68,763.51L244.92,765.86L244.11,768.2L243.26,770.53L242.37,772.86L241.43,775.17L240.46,777.48L239.44,779.77L238.39,782.04L237.29,784.3L236.16,786.54L234.99,788.76L233.78,790.96L232.53,793.14L231.25,795.3L229.94,797.43L228.59,799.54L227.2,801.61L225.79,803.66L224.34,805.68L222.87,807.67L221.36,809.63L219.83,811.55L218.27,813.44L216.68,815.29L215.06,817.11L213.43,818.88L211.76,820.62L210.08,822.32L208.37,823.97L206.65,825.59L204.9,827.15L203.14,828.68L201.36,830.16L199.56,831.59L197.75,832.97L195.93,834.31L194.09,835.6L192.24,836.83L190.38,838.02L188.52,839.15L186.64,840.24L184.76,841.27L182.87,842.24L180.98,843.16L179.09,844.03L177.19,844.84L175.29,845.6L173.4,846.3L171.5,846.94L169.61,847.53L167.72,848.05L165.84,848.52L163.96,848.94L162.09,849.29L160.24,849.59L158.39,849.82L156.55,850L154.72,850.12L152.91,850.18L151.11,850.18" stroke-width="1.6"/><path d="M274.06,694.94L275.51,695.89L276.92,696.9L278.31,697.96L279.65,699.08L280.96,700.25L282.24,701.47L283.48,702.74L284.68,704.06L285.84,705.43L286.96,706.85L288.04,708.32L289.09,709.83L290.09,711.39L291.05,713L291.96,714.65L292.83,716.34L293.66,718.07L294.45,719.84L295.19,721.65L295.89,723.51L296.54,725.39L297.14,727.32L297.7,729.27L298.21,731.27L298.67,733.29L299.09,735.35L299.46,737.43L299.78,739.54L300.05,741.68L300.28,743.85L300.45,746.04L300.58,748.25L300.66,750.48L300.69,752.74L300.67,755.01L300.6,757.3L300.49,759.6L300.33,761.92L300.11,764.25L299.85,766.6L299.54,768.95L299.19,771.31L298.78,773.68L298.33,776.05L297.83,778.43L297.29,780.81L296.7,783.19L296.06,785.57L295.37,787.94L294.65,790.32L293.87,792.68L293.05,795.05L292.19,797.4L291.29,799.74L290.34,802.07L289.35,804.39L288.32,806.7L287.24,808.99L286.13,811.26L284.98,813.52L283.79,815.75L282.56,817.96L281.3,820.15L279.99,822.32L278.66,824.46L277.29,826.57L275.88,828.66L274.44,830.71L272.97,832.74L271.47,834.73L269.94,836.69L268.38,838.61L266.79,840.5L265.17,842.35L263.53,844.17L261.86,845.94L260.17,847.68L258.45,849.37L256.72,851.02L254.96,852.62L253.18,854.18L251.39,855.7L249.57,857.17L247.75,858.59L245.9,859.96L244.04,861.28L242.17,862.56L240.29,863.78L238.4,864.95L236.49,866.07L234.59,867.13L232.67,868.14L230.75,869.1L228.82,870L226.89,870.84L224.96,871.63L223.03,872.36L221.09,873.04L219.17,873.65L217.24,874.21L215.32,874.71L213.4,875.16L211.49,875.54L209.59,875.86L207.69,876.13L205.81,876.33L203.94,876.47L202.08,876.56L200.23,876.58L198.4,876.55L196.59,876.45L194.79,876.3L193.02,876.09L191.26,875.81L189.52,875.48L187.8,875.09L186.11,874.63L184.44,874.12L182.8,873.56L181.18,872.93L179.59,872.24L178.02,871.5L176.49,870.71" stroke-width="2.6"/></g>
<g fill="none" stroke="#000" stroke-width="2.2" stroke-linejoin="round">
<path d="M313.4,389.2L319.6,390L326.1,389.8L331.9,396.4L336.4,400.5L336.8,404.6L333.9,408.7L329.8,413.6L325.7,415.2L318,413.6L312.2,410.3L311.4,405.4L307.3,402.5L306,396.4Z"/>
<ellipse cx="329.3" cy="405" rx="6.3" ry="8.3" transform="rotate(28 329.3 405)"/>
<path d="M314,390.5Q309.5,397 311.5,405M319,391Q313.5,399 315.5,407L318.5,413M323.5,391.5Q318,400 320,409.5L323,414.5" stroke-width="1.5"/>
</g>
<g fill="none" stroke="#000" stroke-linejoin="round">
<path d="M243.5,446.3L239.5,447L233,453.5L231,457.5L230,461L230.3,464.5L231.3,467L236.5,470L238,472L243.5,474.5L248,475.5L252.3,476.5L258,477L262.5,479.5L267.5,482.5L272.5,485.3L276.5,487.5L279.6,488.8L282.6,488.5L286.6,487L287.8,484L287.6,479.5L285,477L281,474.5L274.5,471L268.5,467L263.5,464L261,459L257,453.5L251,450L246.5,447.5Z" stroke-width="2.3"/>
<path d="M240,460Q237.5,465 239,471M242.5,458Q240,465 243,472.5M246.5,454Q242,464 246.5,474M251,452Q245.5,463 251,475.5L257,476.5Q255,470 257,465Q258,461 263,464M270,472Q268,477 270,483M274,473L281,477M273,477L280,481M275,481L279,484" stroke-width="1.4"/>
<ellipse cx="283.5" cy="483" rx="3.5" ry="4.5" stroke-width="1.6"/>
</g>
<g fill="none" stroke="#000">
<circle cx="674.8" cy="891.8" r="73" stroke-width="3.6"/>
<ellipse cx="676" cy="889.4" rx="33.6" ry="26.4" stroke-width="1.8"/>
<ellipse cx="676" cy="889.4" rx="29.8" ry="23" stroke-width="1.8"/>
<path d="M670.2,866.4L681,866.6L666,885Q659.5,894 660,900Q661.5,904.3 667,904.3L700.5,901.8Q697,907 685,911" stroke-width="1.8" stroke-linejoin="round"/>
<path d="M689,868.5Q700,872 703.5,883Q705,890 704,896.5L669,897.2Z" stroke-width="1.8" stroke-linejoin="round"/>
</g>
<path d="M878.8,146.4L870.2,158.5L883.2,166.8L881.7,171.9L903.6,171.2L895.7,151.5L891.8,156Z" fill="none" stroke="#000" stroke-width="1.8" stroke-linejoin="miter"/><path d="M1219.3,150.2L1210.1,161L1222.2,171.2L1218.7,175.7L1242.6,177.3L1235.6,156L1230.8,161.4Z" fill="none" stroke="#000" stroke-width="1.8" stroke-linejoin="miter"/><path d="M528.5,490.2L520.2,502.3L533.2,511.9L530.4,517L553.6,516.3L545.4,495.3L542.2,499.8Z" fill="none" stroke="#000" stroke-width="1.8" stroke-linejoin="miter"/><path d="M873.7,123.8L878.8,123.8L878.8,129.2L876.9,136.8L879.1,138.1L881,136.2L882.6,131.1L883.9,125.1L886.1,123.8L889.9,124.1L893.1,128.2L893.4,131.1L895,125.1L897.6,123.8L900.8,123.8L902,125.4L904,131.1L905.9,138.1L905.9,141.3L903,143.8L900.1,141.6L898.5,138.1L896.6,141.3L893.4,143.8L889.9,141.3L888.7,138.1L886.8,140L884.5,142.9L874.3,142.9L871.1,138.1L872.1,133L873.1,127.3Z" fill="#000"/><path d="M1224,118.8L1253.5,118.8L1253,121.2L1249,123L1248,129L1245.5,137.6L1242,139.3L1235,140.2L1227,141.5L1224.5,140L1226,137.5L1232.5,137L1235.5,135L1237,128L1237,123L1233,122L1225,121.5Z" fill="#000"/><path d="M519.9,471.7L525.3,465.1L529.1,461.9L537.4,460.0L553.9,459.0L553.9,463.8L541.8,465.1L536.1,467.0L533.2,467.0L527.2,471.1L523.4,475.9ZM534.8,467.0L541.8,465.7L541.5,474.3L539.9,480.0L536.8,481.6L532.9,483.8L527.8,485.8L521.1,486.7L521.1,480.0L528.8,480.0L532.0,477.5L534.2,473.7ZM541.8,466.6L549.5,465.7L554.6,466.6L555.9,472.4L558.4,472.4L561.0,475.6L561.0,481.3L563.2,479.1L567.0,479.1L567.0,482.6L564.8,485.8L557.1,485.8L555.2,483.8L554.6,479.4L553.3,481.3L552.0,486.7L548.2,486.7L547.6,481.9L545.7,481.3L541.8,481.3Z" fill="#000"/>
</svg>
</body></html>
